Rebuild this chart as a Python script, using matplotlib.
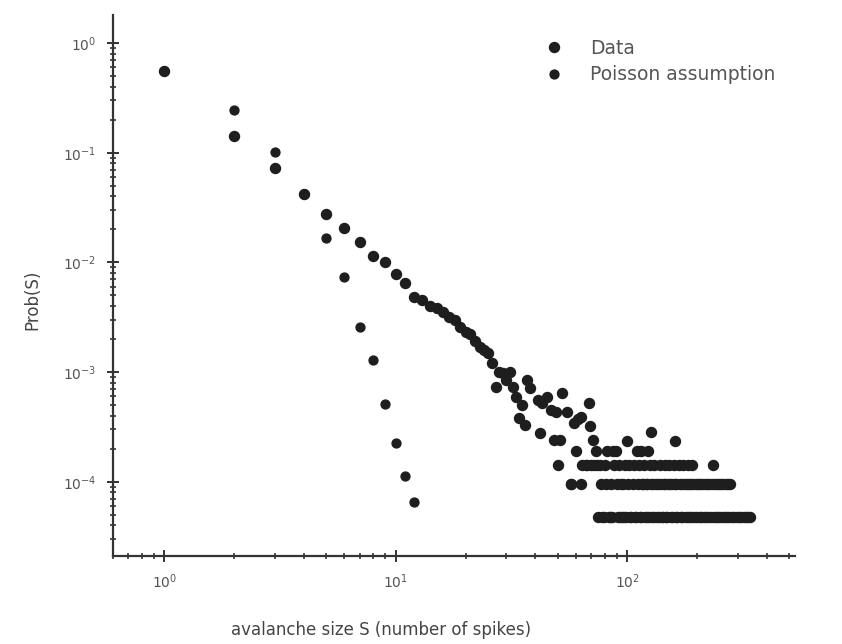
import matplotlib
matplotlib.use("Agg")
import matplotlib.pyplot as plt
from matplotlib.ticker import LogLocator, NullFormatter

plt.rcParams["font.family"] = ["DejaVu Sans"]

# measured avalanche size distribution (body of the curve)
data_sizes = [1, 2, 3, 4, 5, 6, 7, 8, 9, 10, 11, 12, 13, 14, 15, 16, 17, 18,
              19, 20, 21, 22, 23, 24, 25, 26, 27, 28, 29, 30, 31, 32, 33, 34,
              35, 36, 37, 38, 41, 42, 43, 45, 47, 48, 49, 51, 52, 55, 57, 59,
              61, 63, 68, 69, 71]
data_prob = [0.556, 0.142, 0.0726, 0.042, 0.0276, 0.0206, 0.0154, 0.0114,
             0.0101, 0.0079, 0.0065, 0.0048, 0.0045, 0.0040, 0.0038, 0.0035,
             0.0032, 0.0030, 0.0026, 0.0023, 0.0022, 0.0019, 0.0017, 0.0016,
             0.0015, 0.0012, 0.00073, 0.0010, 0.00098, 0.00085, 0.0010,
             0.00073, 0.00059, 0.00038, 0.00050, 0.00033, 0.00085, 0.00072,
             0.00056, 0.00028, 0.00052, 0.00059, 0.00045, 0.00024, 0.00043,
             0.00024, 0.00065, 0.00043, 0.000095, 0.00034, 0.00037, 0.00039,
             0.00052, 0.00032, 0.00024]

# tail: sizes observed a small number of times (one count = 4.75e-5)
count_unit = 4.75e-5
tail_once = [75, 78, 79, 83, 84, 86, 91, 93, 95, 97, 99, 103, 104, 108, 109,
             113, 115, 119, 121, 124, 128, 131, 134, 137, 141, 143, 147, 149,
             155, 157, 162, 164, 170, 172, 179, 183, 187, 190, 196, 199, 205,
             209, 214, 219, 224, 229, 237, 242, 247, 252, 259, 264, 270, 276,
             284, 290, 297, 304, 311, 318, 325, 332, 339]
tail_twice = [57, 63, 77, 81, 85, 90, 94, 96, 101, 106, 111, 116, 117, 120,
              122, 127, 129, 133, 136, 140, 144, 146, 150, 153, 156, 160, 163,
              168, 173, 177, 181, 185, 189, 193, 197, 202, 206, 211, 216, 221,
              226, 232, 238, 243, 249, 255, 260, 266, 272, 278]
tail_thrice = [50, 64, 66, 67, 70, 72, 74, 76, 80, 88, 92, 98, 102, 107, 112,
               118, 125, 130, 139, 145, 152, 159, 167, 174, 182, 191, 235]
tail_four = [60, 73, 82, 87, 89, 110, 114, 123]
tail_five = [100, 161]
tail_six = [126]

# Poisson assumption
poisson_sizes = [1, 2, 3, 4, 5, 6, 7, 8, 9, 10, 11, 12]
poisson_prob = [0.556, 0.245, 0.1014, 0.042, 0.0167, 0.00736, 0.00258,
                0.00129, 0.000512, 0.000226, 0.000113, 0.0000655]

tail_rows = [(tail_once, 1), (tail_twice, 2), (tail_thrice, 3),
             (tail_four, 4), (tail_five, 5), (tail_six, 6)]
all_sizes = list(data_sizes)
all_prob = list(data_prob)
for sizes, count in tail_rows:
    all_sizes += sizes
    all_prob += [count * count_unit] * len(sizes)

fig = plt.figure(figsize=(8.42, 6.44), dpi=100)
ax = fig.add_axes([0.1342, 0.1366, 0.810, 0.840])

ink = "#1e1e1e"
ax.plot(all_sizes, all_prob, linestyle="none", marker="o", markersize=7.2,
        color=ink, label="Data")
ax.plot(poisson_sizes, poisson_prob, linestyle="none", marker="o",
        markersize=6.4, color=ink, label="Poisson assumption")

ax.set_xscale("log")
ax.set_yscale("log")
ax.set_xlim(0.6, 530)
ax.set_ylim(2.1e-5, 1.8)

for side in ("top", "right"):
    ax.spines[side].set_visible(False)
for side in ("left", "bottom"):
    ax.spines[side].set_linewidth(1.6)
    ax.spines[side].set_color("#333333")

ax.xaxis.set_major_locator(LogLocator(base=10, numticks=10))
ax.yaxis.set_major_locator(LogLocator(base=10, numticks=10))
ax.xaxis.set_minor_locator(LogLocator(base=10, subs=range(2, 10), numticks=20))
ax.yaxis.set_minor_locator(LogLocator(base=10, subs=range(2, 10), numticks=20))
ax.xaxis.set_minor_formatter(NullFormatter())
ax.yaxis.set_minor_formatter(NullFormatter())
ax.tick_params(which="major", direction="inout", length=8, width=1.4,
               color="#333333", labelsize=10, labelcolor="#555555", pad=8)
ax.tick_params(which="minor", direction="inout", length=5, width=1.2,
               color="#333333")

ax.set_xlabel("avalanche size S (number of spikes)", fontsize=12,
              color="#444444")
ax.set_ylabel("Prob(S)", fontsize=12, color="#444444")
ax.xaxis.set_label_coords(0.393, -0.12)
ax.yaxis.set_label_coords(-0.105, 0.473)

ax.legend(loc="upper left", bbox_to_anchor=(0.627, 0.966),
          bbox_transform=fig.transFigure, frameon=False, fontsize=13.5,
          handlelength=1.0, handletextpad=1.4, labelspacing=0.4,
          labelcolor="#555555")

fig.savefig("out.png", dpi=100)
